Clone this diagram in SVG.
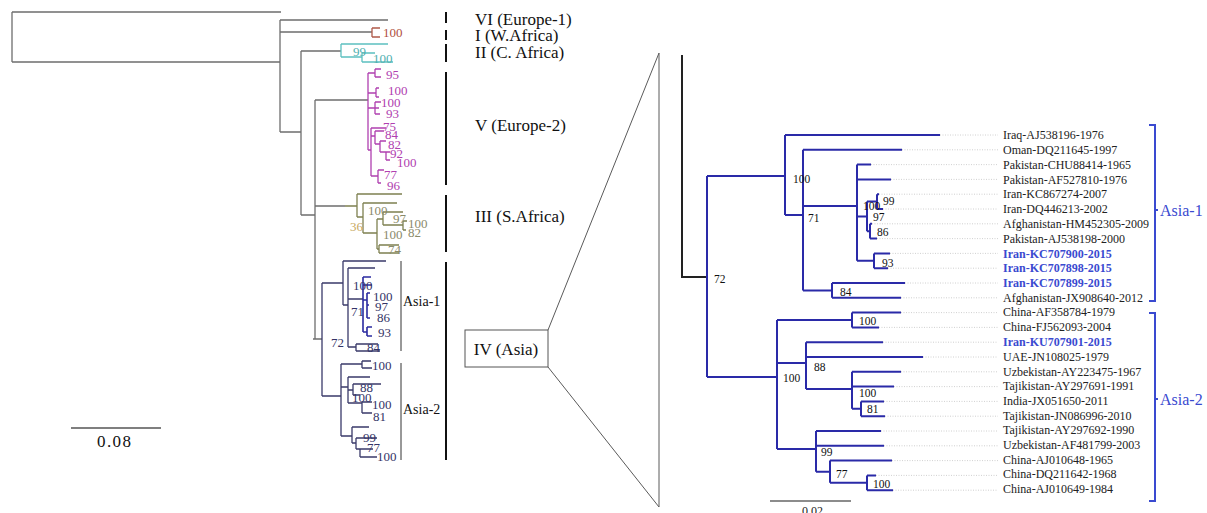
<svg xmlns="http://www.w3.org/2000/svg" width="1207" height="513" viewBox="0 0 1207 513">
<style>
text{font-family:"Liberation Serif","DejaVu Serif",serif}
.g{fill:none;stroke:#6e6e6e;stroke-width:1.3}
.br{fill:none;stroke:#b05a4a;stroke-width:1.3}
.cy{fill:none;stroke:#5cc0c0;stroke-width:1.3}
.mg{fill:none;stroke:#b040b0;stroke-width:1.3}
.ol{fill:none;stroke:#7e8050;stroke-width:1.3}
.nv{fill:none;stroke:#3a3a6a;stroke-width:1.3}
.bl{fill:none;stroke:#2a2aa0;stroke-width:1.6}
.rt{fill:none;stroke:#2a2aa8;stroke-width:2}
.dot{fill:none;stroke:#c4c4c4;stroke-width:0.8;stroke-dasharray:1 1.5}
.bar{fill:none;stroke:#111;stroke-width:2}
.thin{fill:none;stroke:#333;stroke-width:1}
.zl{fill:none;stroke:#5a5a5a;stroke-width:1}
.s13{font-size:13px}
.lab{font-size:17px;fill:#111}
.leaf{font-size:12px;fill:#222}
.hl{font-size:12px;fill:#3a4ad0;font-weight:bold}
.rn{font-size:11.5px;fill:#111}
.asr{font-size:16px;fill:#3a4ad0}
</style>

<g id="left-tree">
  <path class="g" d="M12 12H281M12 12V62M12 62H280M280 20V132M280 20H388M280 32H372M280 132H301M301 51V215M301 51H341M301 215H315M315 100V339M315 100H368M315 206H345M313 339H322"/>
  <g id="clade-I">
    <path class="br" d="M372 28V37M372 28H380M372 37H380"/>
    <text class="s13" x="383" y="37" fill="#b05040">100</text>
  </g>
  <g id="clade-II">
    <path class="cy" d="M341 44V57M341 44H388M341 57H362M362 53V62M362 53H375M362 62H393"/>
    <text class="s13" x="353" y="56" fill="#50b0b0">99</text>
    <text class="s13" x="373" y="63" fill="#50b0b0">100</text>
  </g>
  <g id="clade-V">
    <path class="mg" d="M368 73V150M368 73H375M375 69V77M375 69H381M375 77H381M368 93H376M376 88V97M376 88H379M376 97H379M368 108H375M375 102V114M375 102H381M375 108H379M375 114H380M368 150H371M371 128V176M371 128H386M371 136H375M375 131V144M375 131H384M375 144H380M380 141V152M380 141H386M380 152H386M386 152V160M386 152H390M386 160H390M371 176H378M378 170V183M378 170H384M378 183H381"/>
    <g class="s13" fill="#b040b0">
      <text x="386" y="79">95</text>
      <text x="388" y="95">100</text>
      <text x="381" y="107">100</text>
      <text x="386" y="118">93</text>
      <text x="383" y="131">75</text>
      <text x="385" y="139">84</text>
      <text x="388" y="149">82</text>
      <text x="390" y="158">92</text>
      <text x="397" y="167">100</text>
      <text x="384" y="179">77</text>
      <text x="387" y="190">96</text>
    </g>
  </g>
  <g id="clade-III">
    <path class="ol" d="M345 206H357M357 194V217M357 194H402M357 217H363M363 203V233M363 203H397M363 233H377M377 219V249M377 219H383M383 212V225M383 212H403M383 225H403M403 221V230M403 221H407M403 230H406M377 249H379M379 245V253M379 245H399M379 253H399"/>
    <text class="s13" x="368" y="215" fill="#8a8a6a">100</text>
    <text class="s13" x="350" y="231" fill="#c8a860">36</text>
    <text class="s13" x="393" y="223" fill="#8a8a6a">97</text>
    <text class="s13" x="408" y="228" fill="#8a8a6a">100</text>
    <text class="s13" x="408" y="237" fill="#8a8a6a">82</text>
    <text class="s13" x="383" y="239" fill="#8a8a6a">100</text>
    <text class="s13" x="388" y="254" fill="#8a8a6a">74</text>
  </g>
  <g id="clade-IV">
    <path class="nv" d="M322 283V396M322 283H343M343 261V305M343 261H386M343 305H348M348 268V347M348 268H375M348 299H363M348 347H356M356 344V351M356 344H378M356 351H380M322 396H341M341 364V436M341 364H362M362 361V368M362 361H371M362 368H372M341 387H348M348 377V403M348 377H370M348 390H353M353 384V395M353 384H381M353 395H360M348 403H362M362 402V413M362 402H372M362 413H372M341 436H352M352 427V443M352 427H369M352 443H356M356 438V449M356 438H377M356 449H360M360 449V457M360 449H373M360 457H377"/>
    <path class="bl" d="M363 277V332M363 277H371M363 285H372M363 300H367M367 293V318M367 293H370M367 305H369M367 318H370M363 332H367M367 327V336M367 327H372M367 336H372"/>
    <g class="s13" fill="#333366">
      <text x="353" y="290">100</text>
      <text x="373" y="301">100</text>
      <text x="375" y="311">97</text>
      <text x="377" y="322">86</text>
      <text x="378" y="337">93</text>
      <text x="351" y="316">71</text>
      <text x="367" y="352">84</text>
      <text x="331" y="347">72</text>
      <text x="372" y="370">100</text>
      <text x="360" y="392">88</text>
      <text x="352" y="402">100</text>
      <text x="372" y="409">100</text>
      <text x="373" y="421">81</text>
      <text x="363" y="442">99</text>
      <text x="367" y="452">77</text>
      <text x="377" y="461">100</text>
    </g>
  </g>
</g>

<g id="left-labels">
  <path class="thin" d="M401 261V351M401 363V460"/>
  <text class="s13" x="403" y="306" style="font-size:14px" fill="#111">Asia-1</text>
  <text class="s13" x="403" y="414" style="font-size:14px" fill="#111">Asia-2</text>
  <path class="bar" d="M446 12V23M446 30V40M446 44V62M446 72V185M446 195V252M446 262V460"/>
  <text class="lab" x="475" y="25">VI (Europe-1)</text>
  <text class="lab" x="475" y="41">I (W.Africa)</text>
  <text class="lab" x="475" y="58">II (C. Africa)</text>
  <text class="lab" x="475" y="131">V (Europe-2)</text>
  <text class="lab" x="475" y="222">III (S.Africa)</text>
</g>

<g id="scale-left">
  <path d="M71 428H161" fill="none" stroke="#555" stroke-width="1.3"/>
  <text x="97" y="447" font-size="17" fill="#111" textLength="34">0.08</text>
</g>

<g id="node-IV">
  <rect x="465" y="330" width="83" height="37" fill="#fff" stroke="#555" stroke-width="1"/>
  <text class="lab" x="506" y="355" text-anchor="middle">IV (Asia)</text>
</g>

<g id="connectors">
  <path class="zl" d="M548 330L659 53M548 367L659 507M659 53V507"/>
</g>

<g id="right-tree">
  <path d="M682 55V277H707" fill="none" stroke="#222" stroke-width="2"/>
  <path class="rt" d="M707 176V377M707 176H785M785 135V215M785 135H940M785 215H803M803 149.8V290.4M803 149.8H902M803 206H857M857 164.6V260.8M857 164.6H871M857 179.4H891M857 216.4H867M867 201.6V231.2M867 201.6H877M877 194.2V209M877 194.2H879M877 209H883M867 231.2H870M870 223.8V238.6M870 223.8H872M870 238.6H877M857 260.8H874M874 253.4V268.2M874 253.4H890M874 268.2H888M803 290.4H832M832 283V297.8M832 283H905M832 297.8H901
  M707 377H777M777 320V449M777 320H852M852 312.6V327.4M852 312.6H901M852 327.4H879M777 363H806M806 342.2V389M806 342.2H883M806 357H923M806 389H852M852 371.8V408.8M852 371.8H901M852 386.6H894M852 408.8H861M861 401.4V416.2M861 401.4H884M861 416.2H885M777 449H816M816 431V471.7M816 431H881M816 445.8H884M816 471.7H830M830 460.6V482.8M830 460.6H892M830 482.8H867M867 475.4V490.2M867 475.4H876M867 490.2H893"/>
  <path class="dot" d="M940 135H998M902 149.8H998M871 164.6H998M891 179.4H998M879 194.2H998M883 209H998M872 223.8H998M877 238.6H998M890 253.4H998M888 268.2H998M905 283H998M901 297.8H998M901 312.6H998M879 327.4H998M883 342.2H998M923 357H998M901 371.8H998M894 386.6H998M884 401.4H998M885 416.2H998M881 431H998M884 445.8H998M892 460.6H998M876 475.4H998M893 490.2H998"/>
  <g class="rn">
    <text x="714" y="283">72</text>
    <text x="793" y="183">100</text>
    <text x="808" y="222">71</text>
    <text x="863" y="210">100</text>
    <text x="883" y="205">99</text>
    <text x="873" y="221">97</text>
    <text x="877" y="236">86</text>
    <text x="882" y="267">93</text>
    <text x="840" y="296">84</text>
    <text x="859" y="325">100</text>
    <text x="783" y="382">100</text>
    <text x="814" y="371">88</text>
    <text x="859" y="397">100</text>
    <text x="867" y="413">81</text>
    <text x="821" y="456">99</text>
    <text x="836" y="478">77</text>
    <text x="873" y="488">100</text>
  </g>
</g>

<g id="leaves">
  <text class="leaf" x="1003" y="139">Iraq-AJ538196-1976</text>
  <text class="leaf" x="1003" y="154">Oman-DQ211645-1997</text>
  <text class="leaf" x="1003" y="168.5">Pakistan-CHU88414-1965</text>
  <text class="leaf" x="1003" y="183.5">Pakistan-AF527810-1976</text>
  <text class="leaf" x="1003" y="198">Iran-KC867274-2007</text>
  <text class="leaf" x="1003" y="213">Iran-DQ446213-2002</text>
  <text class="leaf" x="1003" y="228">Afghanistan-HM452305-2009</text>
  <text class="leaf" x="1003" y="242.5">Pakistan-AJ538198-2000</text>
  <text class="hl" x="1003" y="257.5">Iran-KC707900-2015</text>
  <text class="hl" x="1003" y="272">Iran-KC707898-2015</text>
  <text class="hl" x="1003" y="287">Iran-KC707899-2015</text>
  <text class="leaf" x="1003" y="301.5">Afghanistan-JX908640-2012</text>
  <text class="leaf" x="1003" y="316">China-AF358784-1979</text>
  <text class="leaf" x="1003" y="331">China-FJ562093-2004</text>
  <text class="hl" x="1003" y="346">Iran-KU707901-2015</text>
  <text class="leaf" x="1003" y="360.5">UAE-JN108025-1979</text>
  <text class="leaf" x="1003" y="375.5">Uzbekistan-AY223475-1967</text>
  <text class="leaf" x="1003" y="390">Tajikistan-AY297691-1991</text>
  <text class="leaf" x="1003" y="404.5">India-JX051650-2011</text>
  <text class="leaf" x="1003" y="419.5">Tajikistan-JN086996-2010</text>
  <text class="leaf" x="1003" y="434">Tajikistan-AY297692-1990</text>
  <text class="leaf" x="1003" y="449">Uzbekistan-AF481799-2003</text>
  <text class="leaf" x="1003" y="463.5">China-AJ010648-1965</text>
  <text class="leaf" x="1003" y="478">China-DQ211642-1968</text>
  <text class="leaf" x="1003" y="492.5">China-AJ010649-1984</text>
</g>

<g id="asia-1-bracket">
  <path d="M1149 125H1155V301H1149M1155 210H1158" fill="none" stroke="#3a4ad0" stroke-width="2"/>
  <text class="asr" x="1160" y="216">Asia-1</text>
</g>
<g id="asia-2-bracket">
  <path d="M1149 313H1155V501H1149M1155 399H1158" fill="none" stroke="#3a4ad0" stroke-width="2"/>
  <text class="asr" x="1160" y="405">Asia-2</text>
</g>

<g id="scale-right">
  <path d="M770 501H851" fill="none" stroke="#666" stroke-width="1.3"/>
  <text x="802" y="515" font-size="12" fill="#222">0.02</text>
</g>
</svg>
